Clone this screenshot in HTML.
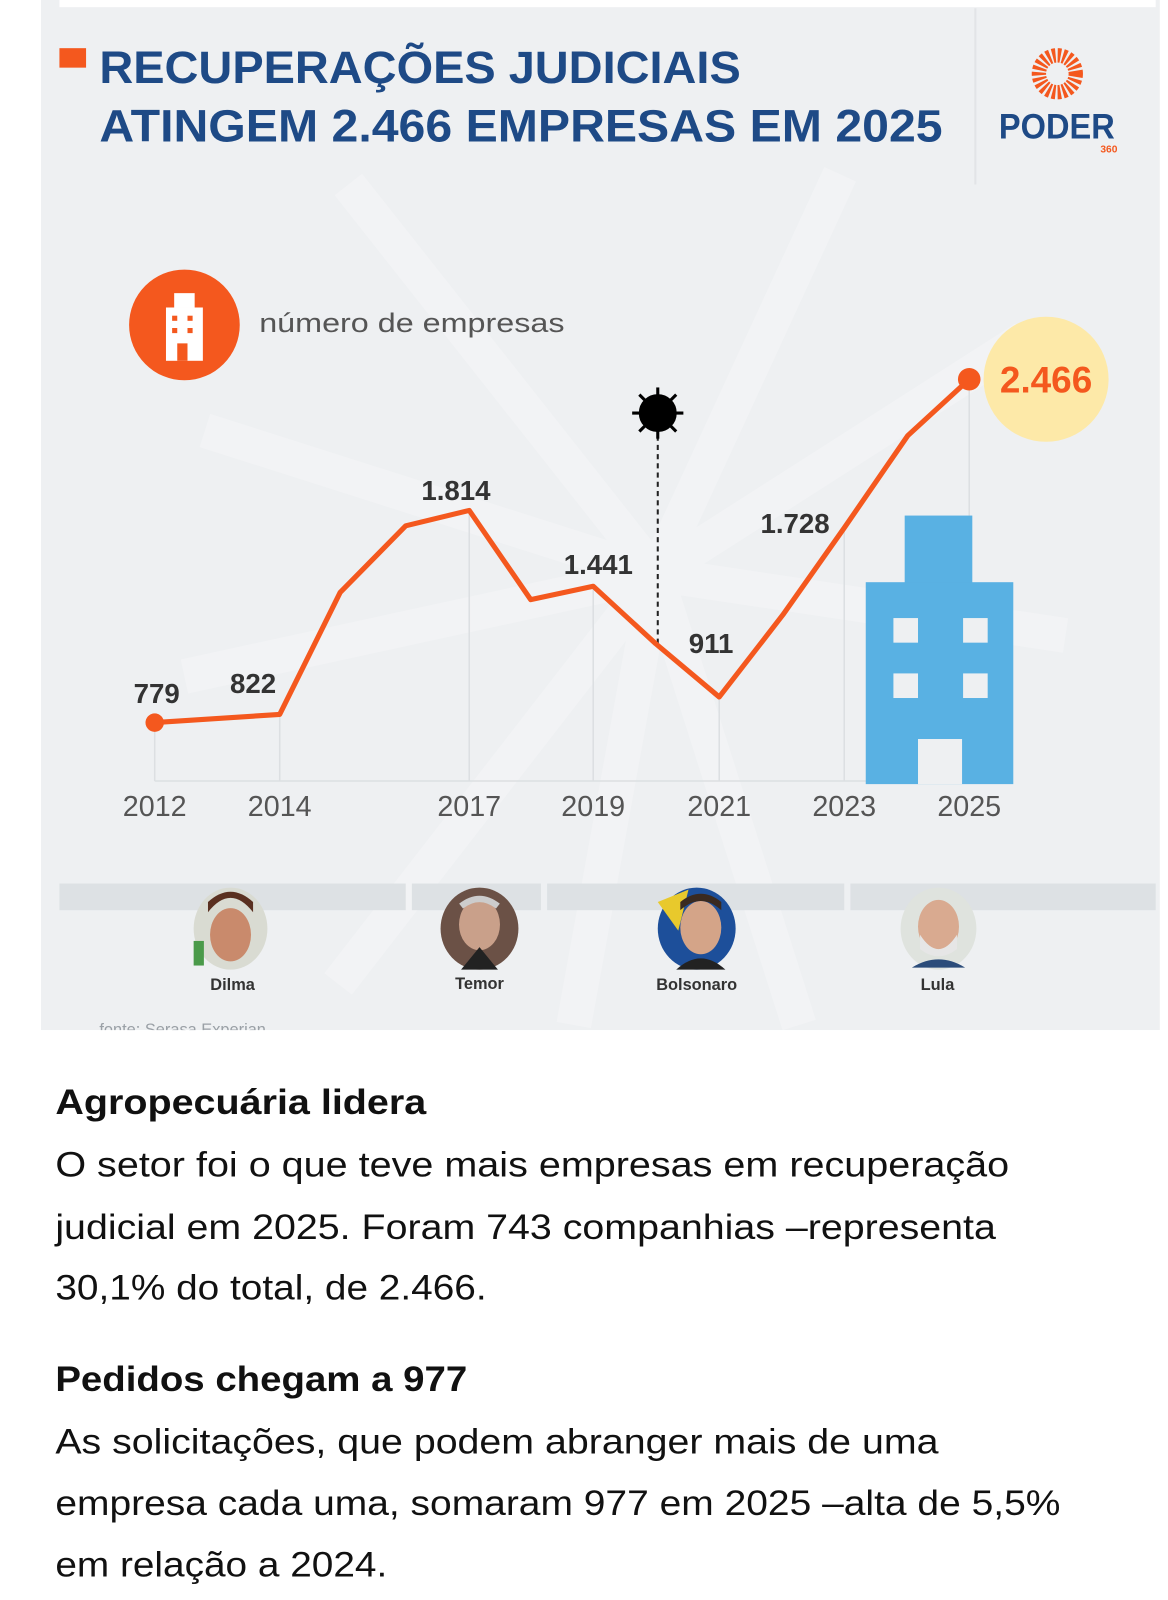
<!DOCTYPE html>
<html><head><meta charset="utf-8"><style>
html,body{margin:0;padding:0;background:#fff;}
svg{display:block;}
</style></head><body>
<svg width="1168" height="1600" viewBox="0 0 1140 1561" preserveAspectRatio="none" xmlns="http://www.w3.org/2000/svg" font-family="Liberation Sans, DejaVu Sans, sans-serif">
<rect x="0" y="0" width="1140" height="1561" fill="#fff"/>
<rect x="40" y="0" width="1092" height="1005" fill="#eef0f2"/>
<rect x="58" y="0" width="1070" height="7" fill="#fff"/>
<!-- faint rays -->
<g stroke="#f2f3f5" stroke-width="34">
<line x1="640" y1="560" x2="340" y2="180"/><line x1="640" y1="560" x2="200" y2="420"/>
<line x1="640" y1="560" x2="180" y2="660"/><line x1="640" y1="560" x2="820" y2="170"/>
<line x1="640" y1="560" x2="1000" y2="330"/><line x1="640" y1="560" x2="1040" y2="620"/>
<line x1="640" y1="560" x2="560" y2="1000"/><line x1="640" y1="560" x2="780" y2="1000"/>
<line x1="640" y1="560" x2="330" y2="960"/>
</g>
<line x1="952" y1="8" x2="952" y2="180" stroke="#e2e4e7" stroke-width="2"/>
<!-- title -->
<rect x="58" y="47" width="26" height="19" fill="#f4581e"/>
<text x="97" y="81" font-size="44" font-weight="bold" fill="#1e4a86" textLength="626" lengthAdjust="spacingAndGlyphs">RECUPERAÇÕES JUDICIAIS</text>
<text x="97" y="138" font-size="44" font-weight="bold" fill="#1e4a86" textLength="823" lengthAdjust="spacingAndGlyphs">ATINGEM 2.466 EMPRESAS EM 2025</text>
<!-- logo -->
<g transform="translate(1032,72)" stroke="#f4581e" stroke-width="3">
<circle r="18" fill="none" stroke-width="14" stroke-dasharray="3 2"/>
<circle r="10" fill="#eef0f2" stroke="none"/>
</g>
<text x="975" y="135" font-size="34" font-weight="bold" fill="#1e4a86" textLength="113" lengthAdjust="spacingAndGlyphs">PODER</text>
<text x="1074" y="149" font-size="10" font-weight="bold" fill="#f4581e">360</text>
<!-- legend -->
<circle cx="180" cy="317" r="54" fill="#f4581e"/>
<rect x="170" y="286" width="20" height="14" fill="#fff"/>
<rect x="162" y="300" width="36" height="52" fill="#fff"/>
<rect x="168" y="308" width="5" height="5" fill="#f4581e"/><rect x="183" y="308" width="5" height="5" fill="#f4581e"/>
<rect x="168" y="320" width="5" height="5" fill="#f4581e"/><rect x="183" y="320" width="5" height="5" fill="#f4581e"/>
<rect x="173" y="335" width="10" height="17" fill="#f4581e"/>
<text x="253" y="324" font-size="26" fill="#555" textLength="298" lengthAdjust="spacingAndGlyphs">número de empresas</text>
<!-- grid lines -->
<g stroke="#dcdfe2" stroke-width="1.5">
<line x1="151" y1="705" x2="151" y2="762"/><line x1="273" y1="697" x2="273" y2="762"/>
<line x1="458" y1="498" x2="458" y2="762"/><line x1="579" y1="572" x2="579" y2="762"/>
<line x1="702" y1="680" x2="702" y2="762"/><line x1="824" y1="515" x2="824" y2="762"/>
<line x1="946" y1="370" x2="946" y2="762"/>
<line x1="151" y1="762" x2="980" y2="762"/>
</g>
<!-- building -->
<g fill="#59b1e3">
<rect x="883" y="503" width="66" height="66"/>
<rect x="845" y="568" width="144" height="197"/>
</g>
<g fill="#eef0f2">
<rect x="872" y="603" width="24" height="24"/><rect x="940" y="603" width="24" height="24"/>
<rect x="872" y="657" width="24" height="24"/><rect x="940" y="657" width="24" height="24"/>
<rect x="896" y="721" width="43" height="44"/>
</g>
<!-- yellow bubble -->
<circle cx="1021" cy="370" r="61" fill="#fde9a8"/>
<!-- virus -->
<line x1="642" y1="425" x2="642" y2="628" stroke="#222" stroke-width="2" stroke-dasharray="5 4"/>
<g transform="translate(642,403)" stroke="#000" stroke-width="3">
<circle r="17" fill="#000"/>
<line x1="0" y1="-25" x2="0" y2="25"/><line x1="-25" y1="0" x2="25" y2="0"/>
<line x1="-18" y1="-18" x2="18" y2="18"/><line x1="-18" y1="18" x2="18" y2="-18"/>
</g>
<!-- line -->
<polyline points="151,705 273,697 332,578 396,513 458,498 518,585 579,572 640,628 702,680 764,600 824,515 886,425 946,370" fill="none" stroke="#f4581e" stroke-width="5" stroke-linejoin="round"/>
<circle cx="151" cy="705" r="9" fill="#f4581e"/>
<circle cx="946" cy="370" r="11" fill="#f4581e"/>
<!-- value labels -->
<g font-size="27" font-weight="bold" fill="#333" text-anchor="middle">
<text x="153" y="686">779</text><text x="247" y="676">822</text>
<text x="445" y="488">1.814</text><text x="584" y="560">1.441</text>
<text x="694" y="637">911</text><text x="776" y="520">1.728</text>
</g>
<text x="1021" y="383" font-size="36" font-weight="bold" fill="#f4581e" text-anchor="middle">2.466</text>
<!-- years -->
<g font-size="28" fill="#555" text-anchor="middle">
<text x="151" y="796">2012</text><text x="273" y="796">2014</text><text x="458" y="796">2017</text>
<text x="579" y="796">2019</text><text x="702" y="796">2021</text><text x="824" y="796">2023</text><text x="946" y="796">2025</text>
</g>
<!-- band -->
<g fill="#dde1e4">
<rect x="58" y="862" width="338" height="26"/><rect x="402" y="862" width="126" height="26"/>
<rect x="534" y="862" width="290" height="26"/><rect x="830" y="862" width="298" height="26"/>
</g>
<!-- portraits -->
<g>
<ellipse cx="225" cy="906" rx="36" ry="40" fill="#d9dbd2"/><ellipse cx="225" cy="912" rx="20" ry="26" fill="#c98a6c"/><path d="M203 890 q22 -28 44 0 l0 -10 q-22 -20 -44 0z" fill="#5a3020"/><rect x="189" y="918" width="10" height="24" fill="#4a9a4a"/>
<ellipse cx="468" cy="906" rx="38" ry="40" fill="#6b5146"/><ellipse cx="468" cy="902" rx="20" ry="25" fill="#c9a08a"/><path d="M450 946 l18 -22 l18 22z" fill="#222"/><path d="M450 884 q18 -14 36 0" stroke="#ccc" stroke-width="6" fill="none"/>
<ellipse cx="680" cy="906" rx="38" ry="40" fill="#1d4f9a"/><path d="M642 880 l30 -12 l-10 40z" fill="#e8c92c"/><ellipse cx="684" cy="905" rx="20" ry="26" fill="#d4a488"/><path d="M664 888 q20 -18 40 0 l0 -8 q-20 -16 -40 0z" fill="#3a2a20"/><path d="M660 946 q24 -22 48 0z" fill="#222"/>
<ellipse cx="916" cy="906" rx="37" ry="40" fill="#dfe3de"/><ellipse cx="916" cy="904" rx="20" ry="26" fill="#d9aa90"/><path d="M898 912 q18 28 36 0 l0 14 q-18 14 -36 0z" fill="#e6e6e6"/><path d="M890 944 q26 -16 52 0z" fill="#2b4c7a"/>
</g>
<g font-size="16" font-weight="bold" fill="#333" text-anchor="middle">
<text x="227" y="966">Dilma</text><text x="468" y="965">Temor</text><text x="680" y="966">Bolsonaro</text><text x="915" y="966">Lula</text>
</g>
<text x="97" y="1010" font-size="16" fill="#9aa0a6">fonte: Serasa Experian</text>
<rect x="40" y="1005" width="1100" height="10" fill="#fff"/>
<!-- article text -->
<g fill="#111" font-size="34">
<text x="54" y="1087" font-weight="bold" textLength="362" lengthAdjust="spacingAndGlyphs">Agropecuária lidera</text>
<text x="54" y="1148" textLength="931" lengthAdjust="spacingAndGlyphs">O setor foi o que teve mais empresas em recuperação</text>
<text x="54" y="1209" textLength="918" lengthAdjust="spacingAndGlyphs">judicial em 2025. Foram 743 companhias –representa</text>
<text x="54" y="1268" textLength="421" lengthAdjust="spacingAndGlyphs">30,1% do total, de 2.466.</text>
<text x="54" y="1357" font-weight="bold" textLength="402" lengthAdjust="spacingAndGlyphs">Pedidos chegam a 977</text>
<text x="54" y="1418" textLength="862" lengthAdjust="spacingAndGlyphs">As solicitações, que podem abranger mais de uma</text>
<text x="54" y="1478" textLength="981" lengthAdjust="spacingAndGlyphs">empresa cada uma, somaram 977 em 2025 –alta de 5,5%</text>
<text x="54" y="1538" textLength="324" lengthAdjust="spacingAndGlyphs">em relação a 2024.</text>
</g>
</svg>
</body></html>
